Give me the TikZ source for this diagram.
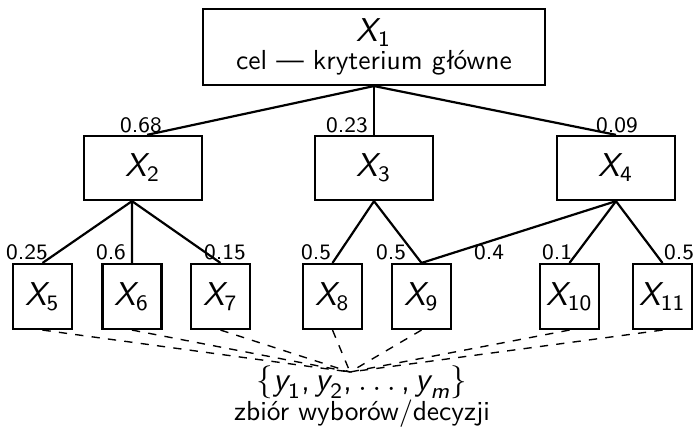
\documentclass[tikz,border=0pt]{standalone}
\usepackage{amssymb, amsmath}
\usepackage{tikz}
\usetikzlibrary{shapes}
\renewcommand{\familydefault}{\sfdefault}
\newcommand*{\lw}{0.8pt}
\newcommand*{\sv}[2]{$\textit{#1}_{\textup{#2}}$}
\newcommand*{\cm}{\mathpunct{\textup{,}}}

\begin{document}
\begin{tikzpicture}[
   x=0.3636pt, y=-0.3636pt,
   font=\sffamily,
   critbox/.style={rectangle, draw=black, line width=\lw, align=center,
                   inner sep=2, minimum width=124.4pt, minimum height=27.6pt},
   subbox/.style={rectangle, draw=black, line width=\lw, font=\sffamily\large,
                  inner sep=2, minimum width=42.9pt, minimum height=23.3pt},
   leafbox/.style={rectangle, draw=black, line width=\lw, font=\sffamily\large,
                   inner sep=1, minimum width=21.5pt, minimum height=23.6pt},
   wlabel/.style={font=\sffamily\footnotesize, inner sep=0},
   tie/.style={draw=black, line width=\lw},
   choice/.style={draw=black, line width=0.5pt, dashed}
  ]

  \useasboundingbox (0, 0) rectangle (693, 428);

  % Top criterion
  \node (X1) at (374, 47) [critbox] {{\large \sv{X}{1}}\\[-2pt] cel --- kryterium główne};

  % Sub-criteria
  \node (X2) at (143, 168) [subbox] {\sv{X}{2}};
  \node (X3) at (374, 168) [subbox] {\sv{X}{3}};
  \node (X4) at (616, 168) [subbox] {\sv{X}{4}};

  % X2 is joined a bit off its centre
  \coordinate (X2t) at ([xshift=1.5pt]X2.north);
  \coordinate (X2b) at ([xshift=-4pt]X2.south);

  % Leaves
  \node (X5) at (42.5, 296.5) [leafbox] {\sv{X}{5}};
  \node (X6) at (132, 296.5) [leafbox] {\sv{X}{6}};
  \node (X7) at (220.5, 296.5) [leafbox] {\sv{X}{7}};
  \node (X8) at (332.5, 296.5) [leafbox] {\sv{X}{8}};
  \node (X9) at (421.5, 296.5) [leafbox] {\sv{X}{9}};
  \node (X10) at (569.5, 296.5) [leafbox] {\sv{X}{10}};
  \node (X11) at (662.5, 296.5) [leafbox] {\sv{X}{11}};

  % Set of choices
  \coordinate (sink) at (350, 372);
  \node (Y) at (362, 382) [inner sep=0, font=\sffamily\large]
    {$\{\textit{y}_{\textup{1}}\cm \textit{y}_{\textup{2}}\cm \ldots\cm \textit{y}_{\textit{m}}\}$};
  \node (Ylab) at (362, 414) [inner sep=0] {zbiór wyborów/decyzji};

  \draw[tie] (X1.south) -- (X2t);
  \foreach \B/\E in {X1.south/X3, X1.south/X4, X2b/X5, X2b/X6, X2b/X7,
                     X3.south/X8, X3.south/X9, X4.south/X9, X4.south/X10, X4.south/X11} {
    \draw[tie] (\B) -- (\E.north);
  }

  \foreach \B in {X5, X6, X7, X8, X9, X10, X11} {
    \draw[choice] (\B.south) -- (sink);
  }

  % Weights
  \node (w2) at (141, 125) [wlabel] {0.68};
  \node (w3) at (347, 125) [wlabel] {0.23};
  \node (w4) at (617, 125) [wlabel] {0.09};
  \node (w5) at (27, 252) [wlabel] {0.25};
  \node (w6) at (111, 252) [wlabel] {0.6};
  \node (w7) at (225, 252) [wlabel] {0.15};
  \node (w8) at (316, 252) [wlabel] {0.5};
  \node (w9) at (391, 252) [wlabel] {0.5};
  \node (w49) at (489, 252) [wlabel] {0.4};
  \node (w10) at (557, 252) [wlabel] {0.1};
  \node (w11) at (679, 252) [wlabel] {0.5};

\end{tikzpicture}
\end{document}
